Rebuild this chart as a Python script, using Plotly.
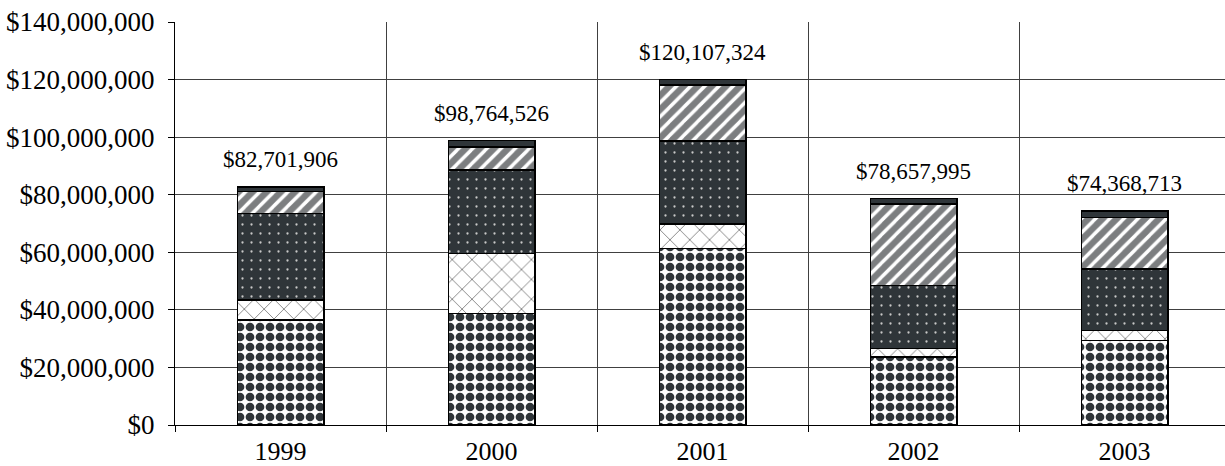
import plotly.graph_objects as go

# Fiscal years shown on the x axis
years = ["1999", "2000", "2001", "2002", "2003"]

# Funding components per year (dollars), stacked bottom to top
seg_base = [36_500_000, 38_800_000, 61_400_000, 23_700_000, 29_300_000]
seg_second = [6_900_000, 20_800_000, 8_400_000, 2_900_000, 3_500_000]
seg_third = [30_100_000, 29_000_000, 28_800_000, 21_800_000, 21_400_000]
seg_fourth = [7_700_000, 7_900_000, 19_500_000, 28_400_000, 17_900_000]
seg_top = [1_501_906, 2_264_526, 2_007_324, 1_857_995, 2_268_713]

# Y axis ticks
y_ticks = [0, 20_000_000, 40_000_000, 60_000_000, 80_000_000,
           100_000_000, 120_000_000, 140_000_000]
y_tick_text = [f"${v:,}" for v in y_ticks]

DARK = "#2f3539"
GREY = "#7c7e80"
FONT = "Liberation Serif, Times New Roman, serif"

xpos = list(range(len(years)))
series = [
    (seg_base, dict(shape=".", fgcolor=DARK, bgcolor="white", fgopacity=1, size=10, solidity=0.6), "white"),
    (seg_second, dict(shape="x", fgcolor="#7a7a7a", bgcolor="white", fgopacity=1, size=14, solidity=0.12), "white"),
    (seg_third, dict(shape=".", fgcolor="#c8c8c8", bgcolor=DARK, fgopacity=1, size=9, solidity=0.05), DARK),
    (seg_fourth, dict(shape="/", fgcolor="white", bgcolor=GREY, fgopacity=1, size=10, solidity=0.35), GREY),
    (seg_top, dict(shape=""), DARK),
]

fig = go.Figure()
for vals, pattern, col in series:
    fig.add_trace(go.Bar(
        x=xpos, y=vals, width=0.41,
        marker=dict(color=col, pattern=pattern, line=dict(color="black", width=1.5)),
        showlegend=False, hoverinfo="skip",
    ))

# Total labels above each stack
totals = [sum(v) for v in zip(seg_base, seg_second, seg_third, seg_fourth, seg_top)]
for i, t in enumerate(totals):
    fig.add_annotation(
        x=xpos[i], y=t, text=f"${t:,.0f}", showarrow=False,
        yanchor="middle", yshift=27,
        font=dict(family=FONT, size=23, color="black"),
    )

fig.update_layout(
    width=1225, height=466,
    margin=dict(l=175, r=0, t=22, b=41),
    barmode="stack",
    plot_bgcolor="white", paper_bgcolor="white",
    font=dict(family=FONT, size=26, color="black"),
)
fig.update_xaxes(
    range=[-0.5, -0.5 + 1050 / 211],
    automargin=False,
    tickmode="array", tickvals=xpos, ticktext=years,
    ticks="", showgrid=False,
    ticklabelstandoff=3,
    showline=True, linecolor="black", linewidth=1,
    minor=dict(tickmode="array", tickvals=[-0.5, 0.5, 1.5, 2.5, 3.5],
               ticks="outside", ticklen=6, tickcolor="black",
               showgrid=True, gridcolor="#404040", gridwidth=1),
    tickfont=dict(family=FONT, size=26),
    zeroline=False,
)
fig.update_yaxes(
    range=[0, 140_000_000],
    automargin=False,
    tickmode="array", tickvals=y_ticks, ticktext=y_tick_text,
    ticks="outside", ticklen=6, tickcolor="black",
    ticklabelstandoff=8,
    showgrid=True, gridcolor="#404040", gridwidth=1,
    showline=True, linecolor="black", linewidth=1,
    zeroline=False,
    tickfont=dict(family=FONT, size=27),
)

fig.write_html("out.html")
